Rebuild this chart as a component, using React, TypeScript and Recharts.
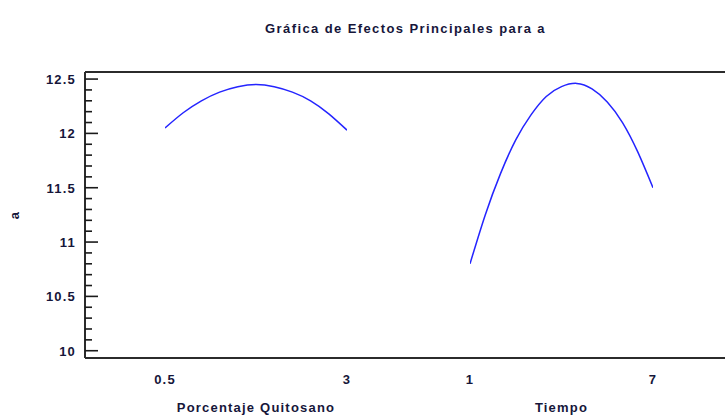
import { LineChart, Line, XAxis, YAxis, Customized } from 'recharts'

const INK = '#16163a'
const FRAME = '#2b2b2b'
const CURVE = '#2424ff'
const FONT = '"Liberation Sans", Arial, sans-serif'

// chart box and plot margins
const W = 735
const H = 419
const MARGIN = { top: 72, right: 9, bottom: 61, left: 0 }
const Y_AXIS_W = 85
const PLOT_BOTTOM = H - MARGIN.bottom

// Porcentaje Quitosano
const quitosanoX = [0.5, 0.75, 1, 1.25, 1.5, 1.75, 2, 2.25, 2.5, 2.75, 3]
const quitosanoA = [12.05, 12.19, 12.3, 12.38, 12.43, 12.45, 12.43, 12.38, 12.3, 12.18, 12.03]
const quitosanoTicks = [0.5, 3]

// Tiempo
const tiempoX = [1, 1.5, 2, 2.5, 3, 3.5, 4, 4.5, 5, 5.5, 6, 6.5, 7]
const tiempoA = [10.8, 11.25, 11.63, 11.94, 12.17, 12.34, 12.43, 12.46, 12.41, 12.29, 12.1, 11.83, 11.5]
const tiempoTicks = [1, 7]

// y axis
const yDomain: [number, number] = [9.933, 12.565]
const yMajorTicks = [10, 10.5, 11, 11.5, 12, 12.5]
const yAllTicks: number[] = []
for (let i = 0; i <= 25; i++) yAllTicks.push(Math.round((10 + i * 0.1) * 10) / 10)

const quitosanoData = quitosanoX.map((x, i) => ({ x, a: quitosanoA[i] }))
const tiempoData = tiempoX.map((x, i) => ({ x, a: tiempoA[i] }))

// each factor sits in its own slice of the plot width
const quitosanoPad = { left: 80, right: 379 }
const tiempoPad = { left: 385, right: 73 }

const textStyle = {
  fontFamily: FONT,
  fontWeight: 700,
  fontSize: 13,
  letterSpacing: 1.2,
  fill: INK,
}

const isMajor = (v: number) => Math.abs(v * 2 - Math.round(v * 2)) < 1e-6

function YTick(props: any) {
  const { x, y, payload } = props
  const axisX = x + 9
  const major = isMajor(payload.value)
  return (
    <g>
      <line
        x1={axisX}
        x2={axisX + (major ? 13 : 7)}
        y1={y}
        y2={y}
        stroke="#1a1a1a"
        strokeWidth={1.6}
      />
      {major && (
        <text x={x} y={y} dy={5} textAnchor="end" style={textStyle}>
          {payload.value}
        </text>
      )}
    </g>
  )
}

function XTick(props: any) {
  const { x, payload } = props
  return (
    <text x={x} y={PLOT_BOTTOM + 26} textAnchor="middle" style={textStyle}>
      {payload.value}
    </text>
  )
}

function axisTitle(text: string, pad: { left: number; right: number }) {
  return (props: any) => {
    const vb = props.viewBox
    const cx = vb.x + pad.left + (vb.width - pad.left - pad.right) / 2
    return (
      <text x={cx} y={PLOT_BOTTOM + 54} textAnchor="middle" style={textStyle}>
        {text}
      </text>
    )
  }
}

function YTitle(props: any) {
  const vb = props.viewBox
  const cy = vb.y + vb.height / 2
  return (
    <text
      x={15}
      y={cy}
      transform={`rotate(-90 15 ${cy})`}
      textAnchor="middle"
      dy={4}
      style={textStyle}
    >
      a
    </text>
  )
}

function Title() {
  const cx = Y_AXIS_W + (W - MARGIN.right - Y_AXIS_W) / 2
  return (
    <text x={cx} y={33} textAnchor="middle" style={{ ...textStyle, letterSpacing: 1.4 }}>
      Gráfica de Efectos Principales para a
    </text>
  )
}

export default function App() {
  return (
    <div
      style={{
        position: 'absolute',
        left: 0,
        top: 0,
        width: 725,
        height: 419,
        overflow: 'hidden',
        background: '#fff',
      }}
    >
      <LineChart width={W} height={H} margin={MARGIN}>
        <XAxis
          xAxisId="q"
          type="number"
          dataKey="x"
          orientation="bottom"
          mirror
          domain={[0.5, 3]}
          ticks={quitosanoTicks}
          padding={quitosanoPad}
          allowDataOverflow
          tickLine={false}
          tickSize={0}
          tickMargin={0}
          axisLine={{ stroke: FRAME, strokeWidth: 2 }}
          tick={<XTick />}
          label={axisTitle('Porcentaje Quitosano', quitosanoPad)}
        />
        <XAxis
          xAxisId="t"
          type="number"
          dataKey="x"
          orientation="bottom"
          mirror
          domain={[1, 7]}
          ticks={tiempoTicks}
          padding={tiempoPad}
          allowDataOverflow
          tickLine={false}
          tickSize={0}
          tickMargin={0}
          axisLine={false}
          tick={<XTick />}
          label={axisTitle('Tiempo', tiempoPad)}
        />
        <XAxis
          xAxisId="top"
          type="number"
          orientation="top"
          mirror
          domain={[0, 1]}
          tick={false}
          tickLine={false}
          axisLine={{ stroke: FRAME, strokeWidth: 2 }}
        />
        <YAxis
          yAxisId="a"
          type="number"
          width={Y_AXIS_W}
          domain={yDomain}
          ticks={yAllTicks}
          interval={0}
          allowDataOverflow
          tickLine={false}
          tickSize={0}
          tickMargin={9}
          axisLine={{ stroke: FRAME, strokeWidth: 2 }}
          tick={<YTick />}
          label={YTitle}
        />
        <YAxis
          yAxisId="r"
          type="number"
          orientation="right"
          mirror
          domain={yDomain}
          ticks={yMajorTicks}
          interval={0}
          allowDataOverflow
          tick={false}
          tickSize={6}
          tickLine={{ stroke: '#1a1a1a', strokeWidth: 1.6 }}
          axisLine={{ stroke: FRAME, strokeWidth: 2 }}
        />
        <Line
          data={quitosanoData}
          xAxisId="q"
          yAxisId="a"
          dataKey="a"
          type="natural"
          stroke={CURVE}
          strokeWidth={1.5}
          dot={false}
          isAnimationActive={false}
        />
        <Line
          data={tiempoData}
          xAxisId="t"
          yAxisId="a"
          dataKey="a"
          type="natural"
          stroke={CURVE}
          strokeWidth={1.5}
          dot={false}
          isAnimationActive={false}
        />
        <Customized component={Title} />
      </LineChart>
    </div>
  )
}
